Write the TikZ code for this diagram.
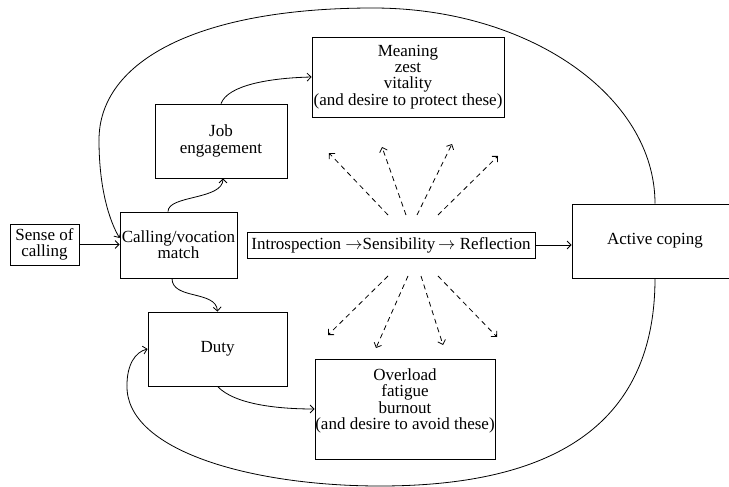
\documentclass[tikz,border=0pt]{standalone}
\usepackage{fontspec}
\setmainfont{Liberation Serif}
\usetikzlibrary{arrows.meta}
\begin{document}
\begin{tikzpicture}[x=1pt,y=-1pt,
  box/.style={draw, line width=0.8pt, inner sep=0pt, align=center,
    font=\fontsize{17}{16.3}\selectfont},
  txt/.style={inner sep=0pt, align=center, font=\fontsize{17}{16.3}\selectfont},
  conn/.style={line width=0.8pt, -{Straight Barb[length=4pt,width=8pt]}},
  dconn/.style={line width=0.8pt, dash pattern=on 5pt off 4pt, -{Straight Barb[length=4pt,width=8pt]}},
  loop/.style={line width=0.8pt}
]
\clip (0,0) rectangle (729,487);
\fill[white] (0,0) rectangle (729,487);

\node[box, minimum width=69pt, minimum height=41pt] (sense) at (44.5,244.5) {Sense of\\calling};
\node[box, minimum width=117pt, minimum height=66pt] (calling) at (178.5,245) {Calling/vocation\\match};
\node[box, minimum width=132pt, minimum height=74pt] (job) at (221,141) {Job\\engagement};
\node[box, minimum width=192pt, minimum height=80pt] (meaning) at (408,77) {Meaning\\zest\\vitality\\(and desire to protect these)};
\node[box, minimum width=139pt, minimum height=74pt] (duty) at (217.5,349) {Duty};
\node[box, minimum width=180pt, minimum height=100pt] (overload) at (405,409) {};
\node[txt] (overloadtext) at (405,401) {Overload\\fatigue\\burnout\\(and desire to avoid these)};
\node[box, minimum width=288pt, minimum height=26pt] (intro) at (391,245) {Introspection $\rightarrow$Sensibility\,$\rightarrow$ Reflection};
\node[box, minimum width=166pt, minimum height=74pt] (active) at (655,241) {Active coping};

% straight connectors
\draw[conn] (sense.east) -- (sense.east -| calling.west);
\draw[conn] (intro.east) -- (intro.east -| active.west);

% wavy connectors
\draw[conn] ([xshift=-10.5pt]calling.north) .. controls (168,195) and (223,200) .. ([xshift=2pt]job.south);
\draw[conn] (job.north) .. controls (228,85) and (270,78) .. (meaning.west);
\draw[conn] ([xshift=-6.5pt]calling.south) .. controls (172,300) and (216,290) .. (duty.north);
\draw[conn] (duty.south) .. controls (235,405) and (280,409) .. (overload.west);

% big loops
\coordinate (top) at (373,8);
\coordinate (left) at (99,140);
\coordinate (bot) at (380,486);
\coordinate (bl) at (127,385);
\draw[loop] (active.north) .. controls (655,96) and (529,8) .. (top)
  .. controls (200,8) and (99,60) .. (left);
\draw[conn] (left) .. controls (99,190) and (110,222) .. ([yshift=7pt]calling.west);
\draw[loop] (active.south) .. controls (655,420) and (560,486) .. (bot)
  .. controls (250,486) and (125,450) .. (bl);
\draw[conn] (bl) .. controls (127,365) and (135,352) .. (duty.west);

% dashed arrows
\coordinate (u1s) at (388,215); \coordinate (u1e) at (329,153);
\coordinate (u2s) at (406,215); \coordinate (u2e) at (382,147);
\coordinate (u3s) at (417,215); \coordinate (u3e) at (452,144);
\coordinate (u4s) at (438,215); \coordinate (u4e) at (498,156);
\coordinate (l1s) at (388,276); \coordinate (l1e) at (328,335);
\coordinate (l2s) at (408,276); \coordinate (l2e) at (376,348);
\coordinate (l3s) at (421,276); \coordinate (l3e) at (443,345);
\coordinate (l4s) at (438,276); \coordinate (l4e) at (497,337);
\foreach \n in {u1,u2,u3,u4,l1,l2,l3,l4}
  \draw[dconn] (\n s) -- (\n e);
\end{tikzpicture}
\end{document}
